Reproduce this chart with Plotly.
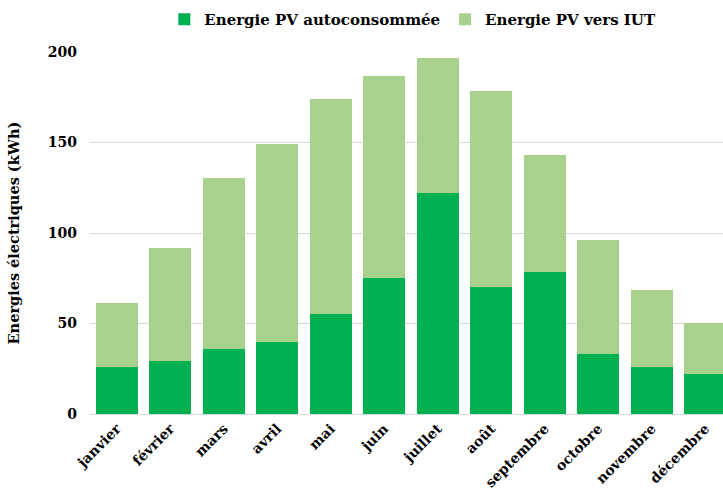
import plotly.graph_objects as go

mois = ["janvier", "février", "mars", "avril", "mai", "juin", "juillet",
        "août", "septembre", "octobre", "novembre", "décembre"]
auto = [26, 29.3, 36, 40, 55.3, 75, 122, 70.2, 78.5, 33.2, 26, 22.3]
total = [61.5, 91.6, 130.6, 149.3, 174.2, 186.6, 196.8, 178.5, 143.3, 96.1, 68.7, 50.4]
iut = [round(t - a, 1) for t, a in zip(total, auto)]

FAM = "DejaVu Serif"

fig = go.Figure()
fig.add_bar(x=mois, y=auto, name="<b>Energie PV autoconsommée</b>",
            marker=dict(color="#00B050", line=dict(width=0)))
fig.add_bar(x=mois, y=iut, name="<b>Energie PV vers IUT</b>",
            marker=dict(color="#A9D18E", line=dict(width=0)))

fig.update_layout(
    barmode="stack", bargap=0.215,
    width=723, height=488,
    margin=dict(l=90, r=0, t=52, b=74, autoexpand=False),
    plot_bgcolor="white", paper_bgcolor="white",
    font=dict(family=FAM, size=14, color="black"),
    legend=dict(orientation="h", x=0.51, xanchor="center",
                y=1.09, yanchor="middle",
                font=dict(family=FAM, size=15, color="black"),
                itemwidth=30, traceorder="normal"),
    xaxis=dict(tickangle=-45, tickfont=dict(family=FAM, size=14, color="black"),
               automargin=False, range=[-0.5, 11.33],
               showline=True, linecolor="#D9D9D9", linewidth=1,
               ticks="", tickprefix="<b>", ticksuffix="</b>"),
    yaxis=dict(range=[0, 200], dtick=50, showgrid=True, gridcolor="#D9D9D9",
               zeroline=False, ticks="", tickprefix="<b>", ticksuffix="</b>",
               automargin=False,
               tickfont=dict(family=FAM, size=14, color="black"),
               ticklabelstandoff=12,
               title=dict(text="<b>Energies électriques (kWh)</b>", standoff=24,
                          font=dict(family=FAM, size=14.5, color="black"))),
)

fig.write_html("out.html",
               config={"displayModeBar": False},
               post_script="document.body.style.margin='0';document.body.style.overflow='hidden';")
